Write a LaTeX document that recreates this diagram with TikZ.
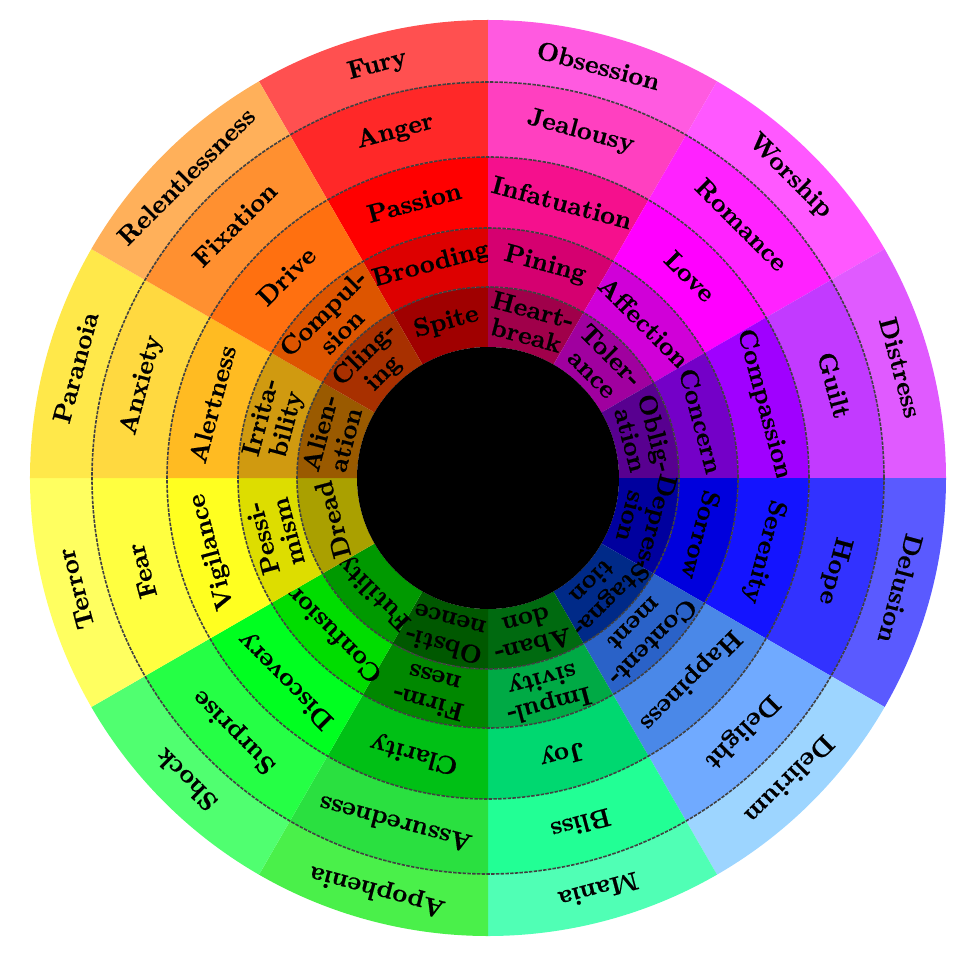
\documentclass[tikz,border=0pt]{standalone}
\usepackage{fontspec}
\usepackage{tikz}
\newfontfamily\wheelfont{lmroman10-bold.otf}[FakeBold=0.6]
\tikzset{
  lbl/.style={font=\wheelfont\fontsize{14.6}{15}\selectfont, align=center, inner sep=0pt},
  ringline/.style={black!75, line width=0.9pt, dash pattern=on 2pt off 0.7pt}
}
\newcommand{\seg}[6]{%
  \definecolor{segcol}{HTML}{#5}%
  \fill[segcol] (#2:#3) arc[start angle=#2, end angle=#2+30, radius=#3] -- ({#2+30}:#4) arc[start angle=#2+30, end angle=#2, radius=#4] -- cycle;
  \node[lbl, rotate=#2-75] (#1) at ({#2+15}:{(#3+#4)/2}) {#6};
}
\begin{document}
\begin{tikzpicture}
\useasboundingbox (-9.76,-9.66) rectangle (9.64,9.56);
\seg{fury}{90}{7.92}{9.16}{FF5050}{Fury}
\seg{anger}{90}{6.42}{7.92}{FF2828}{Anger}
\seg{passion}{90}{5.0}{6.42}{FF0000}{Passion}
\seg{brooding}{90}{3.82}{5.0}{DD0000}{Brooding}
\seg{spite}{90}{2.62}{3.82}{A00000}{Spite}
\seg{obsession}{60}{7.92}{9.16}{FF5AE0}{Obsession}
\seg{jealousy}{60}{6.42}{7.92}{FF40C0}{Jealousy}
\seg{infatuation}{60}{5.0}{6.42}{F5108D}{Infatuation}
\seg{pining}{60}{3.82}{5.0}{D50070}{Pining}
\seg{heartbreak}{60}{2.62}{3.82}{A0004A}{Heart-\\break}
\seg{worship}{30}{7.92}{9.16}{FF58FF}{Worship}
\seg{romance}{30}{6.42}{7.92}{FF22FF}{Romance}
\seg{love}{30}{5.0}{6.42}{FF00FF}{Love}
\seg{affection}{30}{3.82}{5.0}{D000D8}{Affection}
\seg{tolerance}{30}{2.62}{3.82}{A0009F}{Toler-\\ance}
\seg{distress}{0}{7.92}{9.16}{E05AFF}{Distress}
\seg{guilt}{0}{6.42}{7.92}{C23AFF}{Guilt}
\seg{compassion}{0}{5.0}{6.42}{A000FF}{Compassion}
\seg{concern}{0}{3.82}{5.0}{7400C8}{Concern}
\seg{obligation}{0}{2.62}{3.82}{580090}{Oblig-\\ation}
\seg{delusion}{-30}{7.92}{9.16}{5A5AFF}{Delusion}
\seg{hope}{-30}{6.42}{7.92}{3232FF}{Hope}
\seg{serenity}{-30}{5.0}{6.42}{1414FF}{Serenity}
\seg{sorrow}{-30}{3.82}{5.0}{0000DD}{Sorrow}
\seg{depression}{-30}{2.62}{3.82}{00009E}{Depres-\\sion}
\seg{delirium}{-60}{7.92}{9.16}{9DD5FF}{Delirium}
\seg{delight}{-60}{6.42}{7.92}{70AAFF}{Delight}
\seg{happiness}{-60}{5.0}{6.42}{4A88E8}{Happiness}
\seg{contentment}{-60}{3.82}{5.0}{2A62C8}{Content-\\ment}
\seg{stagnation}{-60}{2.62}{3.82}{002A88}{Stagna-\\tion}
\seg{mania}{-90}{7.92}{9.16}{50FFB5}{Mania}
\seg{bliss}{-90}{6.42}{7.92}{22FF95}{Bliss}
\seg{joy}{-90}{5.0}{6.42}{00D870}{Joy}
\seg{impulsivity}{-90}{3.82}{5.0}{00AA45}{Impul-\\sivity}
\seg{abandon}{-90}{2.62}{3.82}{006A10}{Aban-\\don}
\seg{apophenia}{-120}{7.92}{9.16}{4AF04A}{Apophenia}
\seg{assuredness}{-120}{6.42}{7.92}{2AE040}{Assuredness}
\seg{clarity}{-120}{5.0}{6.42}{00C015}{Clarity}
\seg{firmness}{-120}{3.82}{5.0}{008800}{Firm-\\ness}
\seg{obstinence}{-120}{2.62}{3.82}{005800}{Obsti-\\nence}
\seg{shock}{-150}{7.92}{9.16}{50FF70}{Shock}
\seg{surprise}{-150}{6.42}{7.92}{25FF45}{Surprise}
\seg{discovery}{-150}{5.0}{6.42}{00FF20}{Discovery}
\seg{confusion}{-150}{3.82}{5.0}{00DD00}{Confusion}
\seg{futility}{-150}{2.62}{3.82}{009900}{Futility}
\seg{terror}{180}{7.92}{9.16}{FFFF60}{Terror}
\seg{fear}{180}{6.42}{7.92}{FFFF40}{Fear}
\seg{vigilance}{180}{5.0}{6.42}{FFFF20}{Vigilance}
\seg{pessimism}{180}{3.82}{5.0}{DDDD00}{Pessi-\\mism}
\seg{dread}{180}{2.62}{3.82}{AAA000}{Dread}
\seg{paranoia}{150}{7.92}{9.16}{FFE84A}{Paranoia}
\seg{anxiety}{150}{6.42}{7.92}{FFD940}{Anxiety}
\seg{alertness}{150}{5.0}{6.42}{FFBB22}{Alertness}
\seg{irritability}{150}{3.82}{5.0}{D09A10}{Irrita-\\bility}
\seg{alienation}{150}{2.62}{3.82}{9A5A00}{Alien-\\ation}
\seg{relentlessness}{120}{7.92}{9.16}{FFB05A}{Relentlessness}
\seg{fixation}{120}{6.42}{7.92}{FF9030}{Fixation}
\seg{drive}{120}{5.0}{6.42}{FF7010}{Drive}
\seg{compulsion}{120}{3.82}{5.0}{DD5500}{Compul-\\sion}
\seg{clinging}{120}{2.62}{3.82}{A83000}{Cling-\\ing}
\draw[ringline] (0,0) circle[radius=3.82];
\draw[ringline] (0,0) circle[radius=5.0];
\draw[ringline] (0,0) circle[radius=6.42];
\draw[ringline] (0,0) circle[radius=7.92];
\fill[black] (0,0) circle[radius=2.62];
\end{tikzpicture}
\end{document}
